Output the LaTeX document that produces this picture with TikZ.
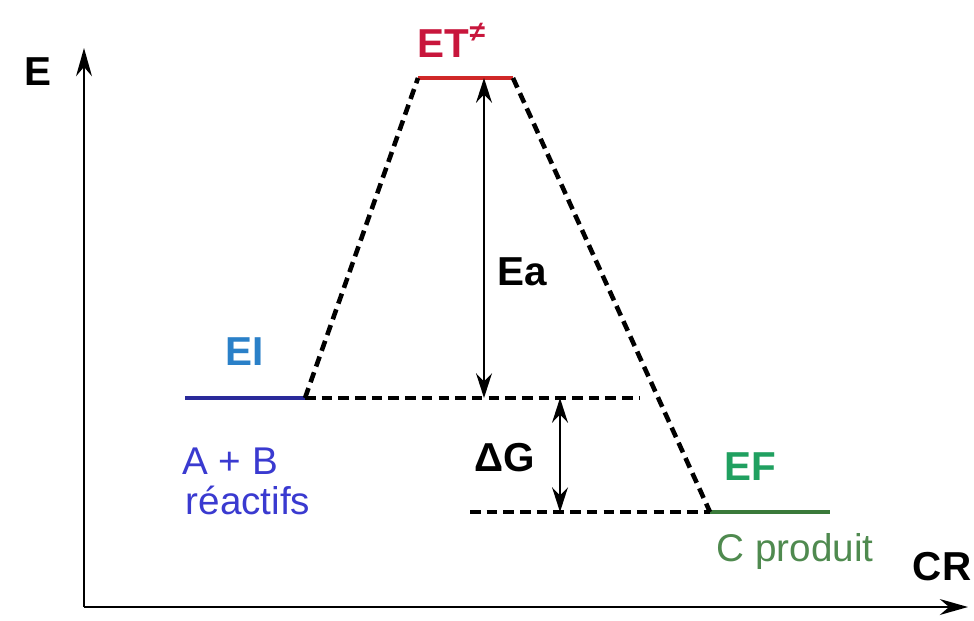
\documentclass[tikz,border=0pt]{standalone}
\usepackage{fontspec}
\setmainfont{Liberation Sans}
\usetikzlibrary{arrows.meta}
\definecolor{etred}{HTML}{C8163C}
\definecolor{etline}{HTML}{D02828}
\definecolor{eiblue}{HTML}{2A80C8}
\definecolor{eiline}{HTML}{2A2A9A}
\definecolor{abblue}{HTML}{3A3AD0}
\definecolor{efgreen}{HTML}{20A060}
\definecolor{efline}{HTML}{3A7A3A}
\definecolor{cgreen}{HTML}{4F8A4F}
\begin{document}
\begin{tikzpicture}[x=0.02cm,y=-0.02cm,
  lbl/.style={font=\fontsize{23}{26}\selectfont\bfseries, inner sep=0pt},
  txt/.style={font=\fontsize{22}{25}\selectfont, inner sep=0pt},
  axis/.style={line width=1.5pt,-{Stealth[length=16pt,width=9pt]}},
  dsh/.style={line width=2.6pt,dash pattern=on 6pt off 3.5pt},
  lvl/.style={line width=2pt},
  dim/.style={line width=1.4pt,{Stealth[length=14pt,width=9pt]}-{Stealth[length=14pt,width=9pt]}}]
\useasboundingbox (0,0) rectangle (974,620);
% axes
\coordinate (O) at (84,607);
\coordinate (Ytop) at (84,48);
\coordinate (Xend) at (968,607);
\draw[axis] (O) -- (Ytop);
\draw[axis] (O) -- (Xend);
\node[lbl] (E) at (38,72) {E};
\node[lbl] (CR) at (942,567) {CR};
% levels
\coordinate (eiL) at (185,398);
\coordinate (eiR) at (305,398);
\coordinate (etL) at (418,78);
\coordinate (etR) at (513,78);
\coordinate (efL) at (710,512);
\coordinate (efR) at (830,512);
\coordinate (dshR) at (640,398);
\coordinate (dsh2L) at (470,512);
\draw[lvl,eiline] (eiL) -- (eiR);
\draw[lvl,etline] (etL) -- (etR);
\draw[lvl,efline,line width=2.6pt] (efL) -- (efR);
% dashed paths
\draw[dsh] (eiR) -- (etL);
\draw[dsh] (etR) -- (efL);
\draw[dsh] (eiR) -- (dshR);
\draw[dsh] (dsh2L) -- (efL);
% arrows
\coordinate (eaT) at (484,78);
\coordinate (eaB) at (484,398);
\coordinate (dgT) at (560,398);
\coordinate (dgB) at (560,512);
\draw[dim] (eaT) -- (eaB);
\draw[dim] (dgT) -- (dgB);
% labels
\node[lbl,etred] (ET) at (452,40) {ET\textsuperscript{≠}};
\node[lbl,eiblue] (EI) at (245,352) {EI};
\node[txt,abblue] (AB) at (230,461) {A + B};
\node[txt,abblue] (R) at (248,500) {réactifs};
\node[lbl] (Ea) at (522,272) {Ea};
\node[lbl] (DG) at (505,458) {ΔG};
\node[lbl,efgreen] (EF) at (750,467) {EF};
\node[txt,cgreen] (CP) at (795,551) {C produit};
\end{tikzpicture}
\end{document}
